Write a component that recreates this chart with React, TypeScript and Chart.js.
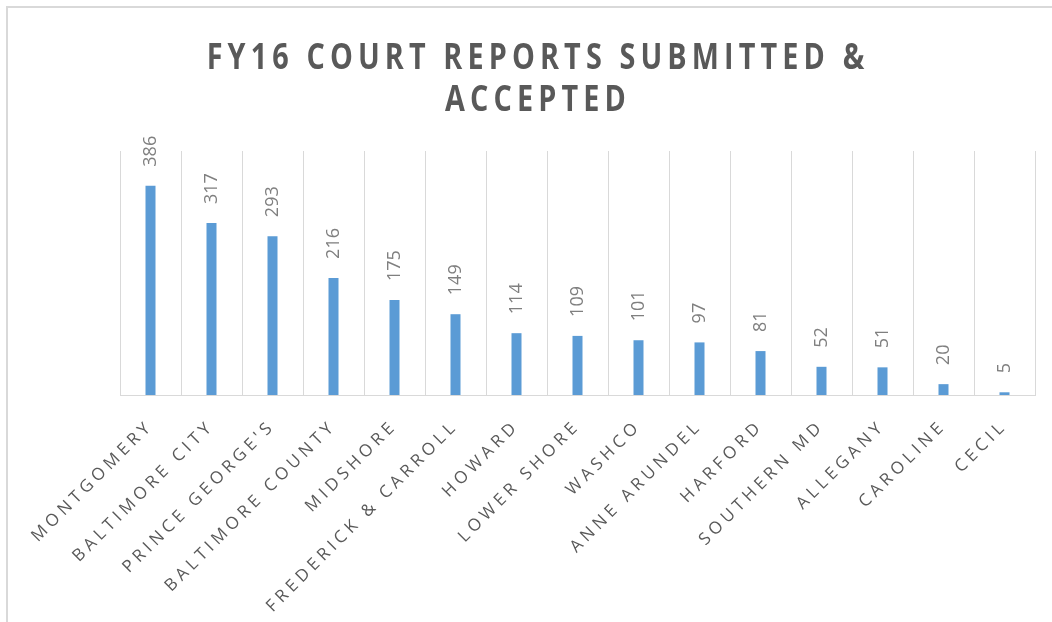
import React, { useEffect, useRef } from 'react';
import { Chart, registerables } from 'chart.js';

Chart.register(...registerables);

const categories = [
  'MONTGOMERY',
  'BALTIMORE CITY',
  "PRINCE GEORGE'S",
  'BALTIMORE COUNTY',
  'MIDSHORE',
  'FREDERICK & CARROLL',
  'HOWARD',
  'LOWER SHORE',
  'WASHCO',
  'ANNE ARUNDEL',
  'HARFORD',
  'SOUTHERN MD',
  'ALLEGANY',
  'CAROLINE',
  'CECIL',
];
const reports = [386, 317, 293, 216, 175, 149, 114, 109, 101, 97, 81, 52, 51, 20, 5];
const titleLines = ['FY16 COURT REPORTS SUBMITTED &', 'ACCEPTED'];
const axisMin = 0;
const axisMax = 450;

const TICK_SPACING = '4.3px';
const TITLE_SPACING = '6.4px';
const TITLE_SCALE_X = 0.8;
const TITLE_CENTER = 530;

const spacingPlugin = {
  id: 'spacingAndLabels',
  afterInit(chart: any) {
    const tb = chart.titleBlock;
    if (tb && !tb.__patched) {
      const orig = tb.draw.bind(tb);
      tb.draw = (...args: any[]) => {
        const ctx = chart.ctx;
        const cx = (tb.left + tb.right) / 2;
        ctx.save();
        ctx.letterSpacing = TITLE_SPACING;
        ctx.translate(TITLE_CENTER, 0);
        ctx.scale(TITLE_SCALE_X, 1);
        ctx.translate(-cx, 0);
        orig(...args);
        ctx.restore();
      };
      tb.__patched = true;
    }
  },
  beforeUpdate(chart: any) {
    chart.ctx.letterSpacing = TICK_SPACING;
  },
  beforeDraw(chart: any) {
    chart.ctx.letterSpacing = TICK_SPACING;
  },
  afterDatasetsDraw(chart: any) {
    const ctx = chart.ctx;
    const meta = chart.getDatasetMeta(0);
    ctx.save();
    ctx.letterSpacing = '0px';
    ctx.font = '18px "Open Sans"';
    ctx.fillStyle = '#7f7f7f';
    ctx.textAlign = 'left';
    ctx.textBaseline = 'middle';
    meta.data.forEach((bar: any, i: number) => {
      ctx.save();
      ctx.translate(bar.x, bar.y - 19);
      ctx.rotate(-Math.PI / 2);
      ctx.fillText(String(reports[i]), 0, 0);
      ctx.restore();
    });
    ctx.restore();
  },
};

export default function App() {
  const ref = useRef<HTMLCanvasElement | null>(null);

  useEffect(() => {
    if (!ref.current) return;
    const chart = new Chart(ref.current, {
      type: 'bar',
      data: {
        labels: categories,
        datasets: [
          {
            label: 'Court reports',
            data: reports,
            backgroundColor: '#5b9bd5',
            borderWidth: 0,
            categoryPercentage: 1,
            barPercentage: 0.164,
          },
        ],
      },
      options: {
        responsive: false,
        animation: false,
        devicePixelRatio: 1,
        layout: { padding: { left: 112, right: 31, top: 0, bottom: 0 } },
        plugins: {
          legend: { display: false },
          tooltip: { enabled: false },
          title: {
            display: true,
            text: titleLines,
            color: '#595959',
            font: { family: '"Open Sans"', size: 36, weight: 'bold', lineHeight: 42 / 36 },
            padding: { top: 30, bottom: 29 },
          },
        },
        scales: {
          x: {
            grid: { color: '#d9d9d9', offset: true, drawTicks: false, lineWidth: 1 },
            border: { color: '#d9d9d9', width: 1 },
            ticks: {
              color: '#595959',
              font: { family: '"Open Sans"', size: 17 },
              maxRotation: 45,
              minRotation: 45,
              autoSkip: false,
              padding: 21,
            },
            afterFit(scale: any) {
              scale.height = 227;
            },
          },
          y: {
            display: false,
            min: axisMin,
            max: axisMax,
          },
        },
      },
      plugins: [spacingPlugin],
    } as any);
    return () => chart.destroy();
  }, []);

  return (
    <div
      style={{
        position: 'absolute',
        left: 6,
        top: 6,
        width: 1046,
        height: 616,
        overflow: 'hidden',
        borderLeft: '2px solid #d9d9d9',
        borderTop: '2px solid #d9d9d9',
        boxSizing: 'border-box',
        background: '#ffffff',
      }}
    >
      <canvas ref={ref} width={1058} height={614} style={{ display: 'block' }} />
    </div>
  );
}
